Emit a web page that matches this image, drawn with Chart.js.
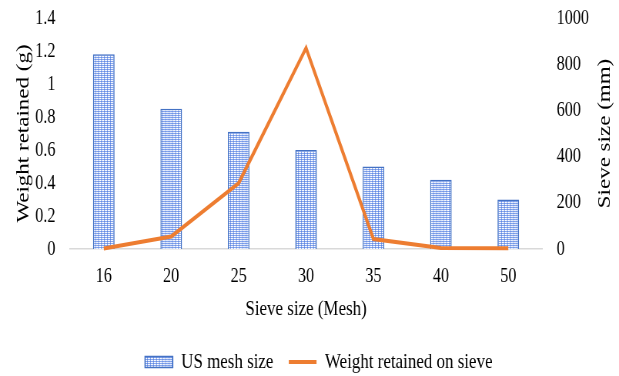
<!DOCTYPE html>
<html>
<head>
<meta charset="utf-8">
<script src="https://cdn.jsdelivr.net/npm/chart.js@4"></script>
<style>
  html, body { margin: 0; padding: 0; overflow: hidden; background: #fff; width: 619px; height: 376px; }
  /* the chart is laid out on a wider canvas and narrowed to the page width */
  #wrap { width: 804px; height: 376px; transform: scaleX(0.76990); transform-origin: 0 0; }
</style>
</head>
<body>
<div id="wrap"><canvas id="chart" width="804" height="376"></canvas></div>
<script>
// Sieve analysis data
const meshSizes = ['16', '20', '25', '30', '35', '40', '50'];
const usMeshValues = [1.18, 0.85, 0.71, 0.60, 0.50, 0.42, 0.30];
const weightRetainedValues = [2, 54, 285, 870, 43, 4, 3];
const leftTickLabels = ['0', '0.2', '0.4', '0.6', '0.8', '1', '1.2', '1.4'];
const rightTickLabels = ['0', '200', '400', '600', '800', '1000'];

const FONT = 'Liberation Serif';
const INK = '#000000';

const canvas = document.getElementById('chart');
const ctx = canvas.getContext('2d');

// dotted fill used for the bars
function makeDotPattern() {
  const tile = document.createElement('canvas');
  tile.width = 4; tile.height = 4;
  const g = tile.getContext('2d');
  g.fillStyle = '#87a6ec';
  g.fillRect(0, 0, 4, 4);
  g.fillStyle = '#ffffff';
  g.fillRect(0, 0, 1, 1); g.fillRect(2, 0, 1, 1);
  g.fillRect(0, 2, 1, 1); g.fillRect(2, 2, 1, 1);
  g.fillStyle = '#dfe8fb';
  g.fillRect(1, 0, 1, 1); g.fillRect(1, 2, 1, 1);
  g.fillStyle = '#5f86e0';
  g.fillRect(3, 1, 1, 1); g.fillRect(3, 3, 1, 1);
  return ctx.createPattern(tile, 'repeat');
}
const dotPattern = makeDotPattern();

// right axis title reads bottom-to-top
const rightTitle = {
  id: 'rightTitle',
  afterDraw(chart) {
    const s = chart.scales.y1;
    const area = chart.chartArea;
    const c = chart.ctx;
    c.save();
    c.translate(s.right - 18, (area.top + area.bottom) / 2);
    c.rotate(-Math.PI / 2);
    c.font = '23px "' + FONT + '"';
    c.fillStyle = INK;
    c.textAlign = 'center';
    c.textBaseline = 'middle';
    c.fillText('Sieve size (mm)', 0, 0);
    c.restore();
  }
};

// vertical axes: fixed width, no extra room reserved above/below for labels
function fixVertical(width) {
  return function (scale) {
    scale.width = width;
    scale.paddingTop = 0;
    scale.paddingBottom = 0;
  };
}

new Chart(ctx, {
  type: 'bar',
  data: {
    labels: meshSizes,
    datasets: [
      {
        type: 'bar',
        label: 'US mesh size',
        data: usMeshValues,
        yAxisID: 'y',
        backgroundColor: dotPattern,
        borderColor: '#4472C4',
        borderWidth: 1.5,
        barPercentage: 0.32,
        categoryPercentage: 1,
        pointStyle: 'rect',
        order: 2
      },
      {
        type: 'line',
        label: 'Weight retained on sieve',
        data: weightRetainedValues,
        yAxisID: 'y1',
        borderColor: '#ED7D31',
        backgroundColor: '#ED7D31',
        borderWidth: 4,
        borderJoinStyle: 'miter',
        pointRadius: 0,
        pointStyle: 'line',
        tension: 0,
        clip: false,
        order: 1
      }
    ]
  },
  options: {
    responsive: false,
    animation: false,
    devicePixelRatio: 1,
    layout: { padding: { left: 24, right: 0, top: 18, bottom: 0 } },
    plugins: {
      tooltip: { enabled: false },
      legend: {
        position: 'bottom',
        maxHeight: 45,
        labels: {
          usePointStyle: true,
          pointStyleWidth: 36,
          boxHeight: 11,
          padding: 20,
          color: INK,
          font: { family: FONT, size: 22 },
          generateLabels(chart) {
            const items = Chart.defaults.plugins.legend.labels.generateLabels(chart);
            items.sort((a, b) => a.datasetIndex - b.datasetIndex);
            items.forEach(it => {
              const ds = chart.data.datasets[it.datasetIndex];
              it.pointStyle = ds.pointStyle;
              it.lineWidth = ds.borderWidth;
              it.strokeStyle = ds.borderColor;
              it.fillStyle = ds.backgroundColor;
            });
            return items;
          }
        }
      }
    },
    scales: {
      x: {
        grid: { display: false, drawTicks: false },
        border: { color: '#d9d9d9', width: 1.5 },
        ticks: { color: INK, font: { family: FONT, size: 21 }, padding: 15 },
        title: {
          display: true, text: 'Sieve size (Mesh)', color: INK,
          font: { family: FONT, size: 22 }, padding: { top: 0, bottom: 9 }
        },
        afterFit(scale) { scale.height = 82; }
      },
      y: {
        position: 'left',
        min: 0, max: 1.4,
        grid: { display: false, drawTicks: false },
        border: { display: false },
        ticks: {
          stepSize: 0.2, padding: 19, color: INK,
          font: { family: FONT, size: 21 },
          callback: (v, i) => leftTickLabels[i]
        },
        title: {
          display: true, text: 'Weight retained (g)', color: INK,
          font: { family: FONT, size: 23, lineHeight: 0.6 }, padding: 0
        },
        afterFit: fixVertical(67)
      },
      y1: {
        position: 'right',
        min: 0, max: 1000,
        grid: { display: false, drawTicks: false },
        border: { display: false },
        ticks: {
          stepSize: 200, padding: 19, color: INK,
          font: { family: FONT, size: 21 },
          callback: (v, i) => rightTickLabels[i]
        },
        afterFit: fixVertical(100)
      }
    }
  },
  plugins: [rightTitle]
});
</script>
</body>
</html>
